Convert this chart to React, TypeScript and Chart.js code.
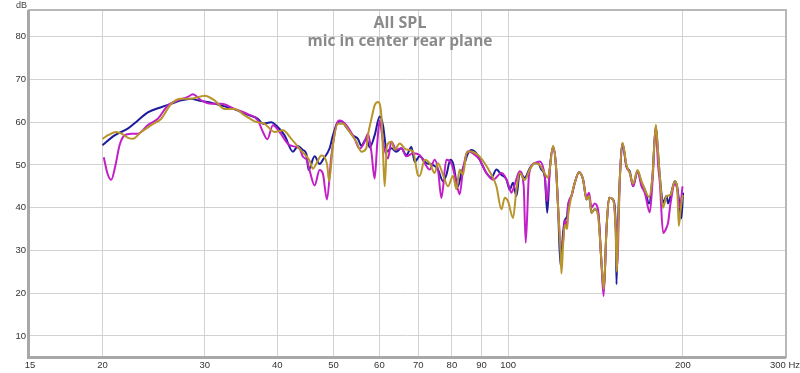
import React, { useEffect, useRef } from "react";
import { Chart, registerables } from "chart.js";

Chart.register(...registerables);

const titleText = "All SPL";
const subtitleText = "mic in center rear plane";
const xTickValues = [15, 20, 30, 40, 50, 60, 70, 80, 90, 100, 200, 300];
const yTickValues = [10, 20, 30, 40, 50, 60, 70, 80];

const blueHz = [
  20.0, 20.98, 22.11, 23.01, 23.94, 25.25, 26.27, 27.33, 28.44, 29.2,
  30.34, 32.04, 33.78, 35.61, 37.05, 37.8, 39.08, 39.86, 41.19, 42.57,
  43.43, 44.3, 44.9, 45.31, 46.4, 47.33, 48.0, 49.25, 49.9, 50.9,
  51.59, 52.63, 54.02, 55.11, 55.85, 56.98, 57.73, 58.88, 60.07, 60.86,
  61.83, 62.92, 64.18, 65.47, 66.78, 68.12, 69.02, 70.4, 72.3, 74.22,
  75.71, 77.23, 78.28, 79.53, 80.35, 81.96, 83.08, 84.17, 85.28, 86.44,
  88.18, 89.94, 91.75, 93.58, 95.46, 97.37, 99.33, 100.64, 101.97, 103.35,
  104.71, 106.81, 108.95, 111.13, 112.6, 114.13, 115.64, 116.8, 117.96, 119.51,
  120.8, 121.9, 123.08, 124.35, 125.19, 126.35, 126.84, 128.56, 130.26, 132.51,
  134.63, 136.46, 137.87, 139.19, 141.02, 142.88, 144.83, 146.16, 147.74, 149.27,
  151.66, 153.29, 153.72, 154.52, 155.75, 157.42, 159.95, 162.05, 164.19, 167.09,
  169.75, 171.99, 174.96, 177.33, 179.67, 181.31, 182.55, 184.96, 187.47, 188.66,
  190.48, 193.74, 195.53, 197.64, 198.81, 200.24,
];
const blueDb = [
  54.6, 56.9, 58.5, 60.4, 62.3, 63.5, 64.3, 65.1, 65.5, 65.1,
  64.7, 63.9, 63.0, 61.7, 60.8, 59.6, 60.0, 59.2, 56.9, 53.1,
  54.4, 53.5, 52.6, 48.8, 52.0, 50.2, 51.3, 53.9, 56.9, 60.0,
  60.2, 58.8, 56.9, 56.1, 54.5, 56.1, 54.1, 56.9, 61.3, 59.3,
  53.1, 53.9, 53.1, 53.9, 52.3, 54.2, 50.7, 52.0, 50.4, 50.0,
  48.9, 46.2, 47.7, 51.2, 50.4, 45.0, 48.1, 50.4, 52.7, 53.5,
  52.7, 50.4, 48.1, 47.0, 48.9, 47.7, 46.6, 44.2, 45.8, 42.7,
  48.1, 47.0, 49.2, 50.4, 50.4, 48.9, 47.4, 38.8, 48.9, 54.2,
  50.4, 40.4, 26.5, 34.0, 37.1, 38.0, 40.4, 42.7, 45.8, 48.3,
  46.6, 41.9, 42.7, 38.8, 39.6, 38.8, 27.1, 20.5, 34.9, 42.3,
  41.9, 34.9, 22.1, 35.0, 46.6, 55.0, 49.6, 48.5, 45.0, 48.6,
  45.8, 44.3, 41.0, 47.4, 59.1, 52.7, 47.4, 41.2, 42.7, 41.0,
  42.7, 46.2, 45.0, 40.0, 37.5, 43.5,
];

const magentaHz = [
  20.1, 20.4, 20.7, 21.06, 21.4, 21.82, 22.41, 23.01, 23.94, 24.91,
  25.92, 26.97, 28.06, 28.62, 29.59, 30.79, 32.04, 33.78, 35.61, 37.05,
  37.8, 38.46, 39.32, 40.38, 42.02, 43.72, 44.3, 44.9, 45.49, 46.4,
  47.33, 47.96, 48.73, 49.58, 50.58, 51.24, 52.63, 54.39, 55.48, 56.59,
  57.34, 58.12, 58.88, 59.52, 60.07, 60.86, 62.08, 62.92, 64.18, 65.47,
  66.78, 68.56, 70.4, 71.81, 73.26, 74.72, 75.71, 76.74, 78.28, 79.84,
  81.45, 82.52, 83.61, 85.28, 86.99, 89.34, 91.75, 94.19, 97.37, 98.66,
  100.35, 101.31, 102.65, 104.71, 106.38, 107.23, 108.64, 111.13, 113.37, 115.64,
  116.7, 117.96, 119.51, 120.8, 121.9, 123.08, 124.35, 125.19, 126.35, 126.84,
  128.56, 130.26, 132.51, 134.63, 136.46, 137.87, 139.19, 141.02, 142.88, 144.83,
  146.04, 147.74, 149.27, 151.66, 153.29, 154.21, 155.13, 155.75, 157.42, 159.95,
  162.05, 164.19, 167.09, 169.75, 171.99, 175.45, 177.33, 179.67, 181.31, 182.55,
  184.96, 187.47, 188.66, 190.48, 193.74, 195.53, 197.64, 199.76,
];
const magentaDb = [
  51.8, 48.0, 46.5, 50.0, 54.6, 56.9, 57.3, 57.3, 59.3, 60.8,
  63.9, 65.1, 65.9, 66.5, 65.1, 64.3, 64.3, 63.1, 61.9, 60.4,
  57.7, 56.0, 59.3, 57.7, 54.6, 53.8, 51.9, 51.3, 48.7, 45.2,
  48.8, 47.9, 41.9, 52.0, 59.3, 60.4, 59.3, 56.1, 53.8, 55.4,
  57.3, 53.1, 46.8, 55.4, 60.4, 55.4, 51.5, 55.4, 53.6, 53.9,
  52.0, 52.7, 52.3, 50.4, 48.9, 51.2, 48.9, 42.3, 51.2, 50.4,
  45.8, 43.1, 48.9, 53.2, 52.7, 51.2, 48.1, 46.5, 48.1, 47.4,
  45.0, 43.5, 45.4, 48.5, 45.0, 31.8, 47.7, 50.4, 50.8, 47.4,
  41.5, 48.9, 54.2, 50.4, 40.4, 32.0, 31.8, 37.1, 35.6, 40.4,
  42.7, 45.8, 48.3, 46.6, 42.5, 43.5, 40.0, 41.0, 39.5, 27.1,
  19.3, 34.9, 42.3, 41.9, 35.5, 26.0, 38.0, 46.6, 55.0, 49.6,
  48.1, 45.0, 48.6, 45.0, 43.5, 38.9, 46.0, 58.8, 50.0, 46.0,
  34.1, 35.3, 36.5, 41.0, 45.5, 44.5, 40.0, 45.0,
];

const goldHz = [
  20.0, 20.48, 21.12, 21.57, 22.09, 22.56, 23.32, 24.27, 25.25, 26.27,
  27.33, 28.44, 30.0, 31.2, 32.46, 33.78, 35.15, 36.57, 38.05, 39.59,
  40.92, 42.31, 44.02, 45.49, 46.09, 46.72, 47.66, 48.28, 48.77, 49.15,
  49.9, 50.9, 51.92, 53.32, 54.76, 55.85, 56.98, 57.34, 58.19, 58.88,
  59.66, 60.47, 60.91, 61.27, 61.83, 62.92, 63.75, 65.03, 66.78, 68.56,
  69.93, 70.4, 71.81, 73.26, 74.72, 75.71, 77.23, 78.77, 80.35, 81.45,
  82.52, 83.61, 84.75, 85.86, 88.74, 91.13, 93.58, 95.46, 97.37, 98.66,
  99.95, 101.97, 103.35, 104.71, 106.81, 108.95, 111.13, 113.37, 115.64, 117.03,
  117.96, 119.51, 120.8, 121.9, 123.08, 123.56, 124.35, 125.19, 126.35, 126.84,
  128.56, 130.26, 132.51, 134.63, 136.46, 137.87, 139.19, 141.02, 142.88, 144.83,
  146.16, 147.74, 149.27, 151.66, 153.29, 153.91, 154.82, 155.75, 157.42, 159.95,
  162.05, 164.19, 167.09, 169.75, 171.99, 174.96, 177.33, 179.67, 181.31, 182.55,
  184.96, 187.47, 190.48, 193.74, 195.53, 196.85, 198.43, 200.0,
];
const goldDb = [
  56.1, 57.0, 57.7, 57.3, 56.4, 56.1, 57.7, 59.3, 60.8, 64.3,
  65.5, 65.5, 66.2, 65.1, 63.1, 63.1, 61.6, 60.2, 59.6, 57.7,
  58.1, 56.1, 53.3, 51.0, 49.1, 50.3, 52.2, 51.8, 50.0, 46.2,
  54.6, 59.6, 59.6, 57.7, 55.4, 53.1, 53.9, 56.9, 61.0, 63.9,
  64.7, 61.6, 52.0, 45.0, 54.5, 55.4, 53.6, 55.0, 53.6, 53.2,
  47.6, 47.4, 51.2, 50.4, 48.1, 50.4, 47.7, 45.0, 47.4, 44.3,
  48.9, 47.7, 52.7, 53.2, 52.3, 50.4, 47.7, 45.0, 39.6, 42.3,
  41.5, 37.6, 44.2, 48.1, 46.5, 48.9, 50.4, 50.0, 48.0, 47.0,
  49.0, 54.5, 50.4, 40.4, 30.0, 24.6, 31.0, 36.0, 35.0, 38.0,
  42.7, 45.8, 48.3, 46.6, 41.9, 42.7, 38.8, 39.6, 38.0, 27.5,
  20.9, 34.9, 42.3, 41.9, 34.0, 25.0, 36.0, 46.6, 55.2, 50.0,
  48.1, 45.6, 48.8, 46.2, 44.3, 42.5, 47.4, 59.4, 53.0, 47.4,
  40.0, 42.7, 43.0, 46.2, 45.0, 35.7, 40.0, 43.0,
];

const toPoints = (hz: number[], db: number[]) => hz.map((f, i) => ({ x: f, y: db[i] }));

const framePlugin = {
  id: "rewFrame",
  beforeDatasetsDraw(chart: any) {
    const { ctx, chartArea } = chart;
    const { left, right, top, bottom } = chartArea;
    ctx.save();
    ctx.strokeStyle = "#b8b8b8";
    ctx.lineWidth = 2;
    ctx.strokeRect(left - 1, top - 1, right - left + 2, bottom - top + 2);
    ctx.strokeStyle = "#a8a8a8";
    ctx.lineWidth = 3;
    ctx.beginPath();
    ctx.moveTo(left - 1.5, top - 1);
    ctx.lineTo(left - 1.5, bottom + 1.5);
    ctx.lineTo(right + 1, bottom + 1.5);
    ctx.stroke();
    ctx.restore();
  },
  afterDatasetsDraw(chart: any) {
    const { ctx } = chart;
    ctx.save();
    ctx.fillStyle = "#8a8a8a";
    ctx.textAlign = "center";
    ctx.textBaseline = "alphabetic";
    ctx.font = "bold 16px 'Open Sans'";
    ctx.fillText(titleText, 400, 28);
    ctx.font = "bold 15.5px 'Open Sans'";
    ctx.fillText(subtitleText, 400, 46);
    ctx.fillStyle = "#444";
    ctx.font = "9px 'Liberation Sans'";
    ctx.textAlign = "left";
    ctx.textBaseline = "top";
    ctx.fillText("dB", 16, 1);
    ctx.restore();
  },
};

export default function App() {
  const canvasRef = useRef<HTMLCanvasElement | null>(null);

  useEffect(() => {
    document.body.style.margin = "0";
    const canvas = canvasRef.current;
    if (!canvas) return;
    const line = (label: string, color: string, hz: number[], db: number[]) => ({
      label,
      data: toPoints(hz, db),
      borderColor: color,
      backgroundColor: color,
      borderWidth: 2,
      pointRadius: 0,
      cubicInterpolationMode: "monotone" as const,
      fill: false,
    });
    const chart = new Chart(canvas, {
      type: "line",
      data: {
        datasets: [
          line("Gold", "#b8952a", goldHz, goldDb),
          line("Magenta", "#c21fc8", magentaHz, magentaDb),
          line("Blue", "#1c1c9c", blueHz, blueDb),
        ],
      },
      options: {
        responsive: false,
        animation: false,
        layout: { padding: { top: 11, right: 15, left: 0, bottom: 0 } },
        plugins: {
          legend: { display: false },
          tooltip: { enabled: false },
          title: { display: false },
        },
        scales: {
          x: {
            type: "logarithmic",
            min: 15,
            max: 300,
            afterBuildTicks: (s: any) => {
              s.ticks = xTickValues.map((v) => ({ value: v }));
            },
            afterFit: (s: any) => {
              s.height = 17;
              s.paddingLeft = 0;
              s.paddingRight = 0;
            },
            ticks: {
              autoSkip: false,
              maxRotation: 0,
              padding: 4,
              color: "#333",
              font: { size: 9.5, family: "'Liberation Sans'" },
              callback: (v: any) => (Number(v) === 300 ? "300 Hz" : String(v)),
            },
            grid: {
              drawTicks: false,
              color: (c: any) =>
                c.tick && (c.tick.value === 15 || c.tick.value === 300) ? "rgba(0,0,0,0)" : "#d2d2d2",
            },
            border: { display: false },
          },
          y: {
            type: "linear",
            min: 5.3,
            max: 86,
            afterBuildTicks: (s: any) => {
              s.ticks = yTickValues.map((v) => ({ value: v }));
            },
            afterFit: (s: any) => {
              s.width = 30;
              s.paddingTop = 0;
              s.paddingBottom = 0;
            },
            ticks: {
              padding: 4,
              color: "#333",
              font: { size: 9.5, family: "'Liberation Sans'" },
            },
            grid: { drawTicks: false, color: "#d2d2d2" },
            border: { display: false },
          },
        },
      },
      plugins: [framePlugin],
    });
    return () => chart.destroy();
  }, []);

  return (
    <div style={{ width: 800, height: 373, background: "#fff" }}>
      <canvas ref={canvasRef} width={800} height={373} style={{ display: "block" }} />
    </div>
  );
}
